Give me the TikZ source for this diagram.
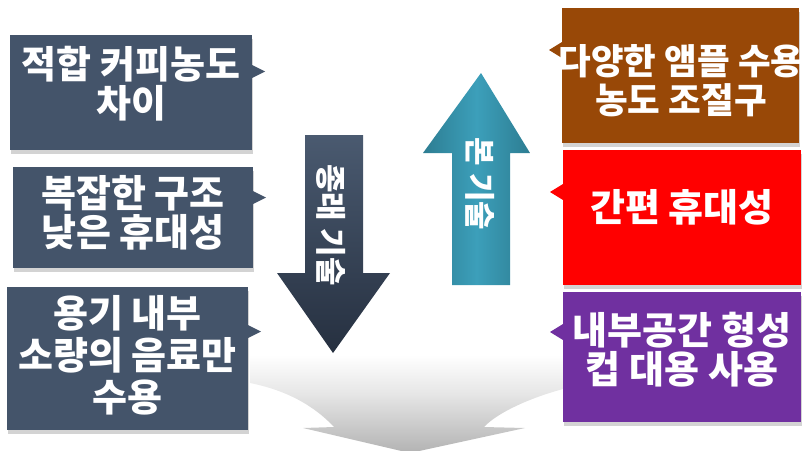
\documentclass[tikz,border=0pt]{standalone}
\usepackage{fontspec}
\setmainfont{Noto Sans CJK KR}
\usetikzlibrary{shadows}
\definecolor{slate}{HTML}{44546A}
\definecolor{brownbox}{HTML}{984807}
\definecolor{redbox}{HTML}{FF0000}
\definecolor{purplebox}{HTML}{7030A0}
\definecolor{navytop}{HTML}{4A5A70}
\definecolor{navybot}{HTML}{263040}
\definecolor{tealmid}{HTML}{3C9FBA}
\definecolor{tealedge}{HTML}{2D7D92}
\pgfdeclareverticalshading{fadegray}{100bp}{color(0bp)=(black!30); color(25bp)=(black!30); color(55bp)=(black!10); color(75bp)=(white); color(100bp)=(white)}
\tikzset{
  box/.style={draw=none, minimum width=#1, inner sep=0pt, outer sep=0pt,
    drop shadow={shadow xshift=1pt, shadow yshift=-4pt, opacity=0.35}},
  boxtext/.style={text=white, font=\bfseries\fontsize{38}{39}\selectfont, align=center, inner sep=0pt},
  arrowtext/.style={text=white, font=\bfseries\fontsize{31}{32}\selectfont, rotate=-90, inner sep=0pt},
  tri/.style={draw=none}
}
\begin{document}
\begin{tikzpicture}[x=1pt,y=-1pt]
\useasboundingbox (0,0) rectangle (802,450);
\clip (0,0) rectangle (802,450);
% bottom big arrow
\shade[shading=fadegray]
  (250,355) -- (250,383) .. controls (295,392) and (320,412) .. (334,427)
  -- (303,428) -- (410,453) -- (525,428) -- (484,427)
  .. controls (500,410) and (545,390) .. (600,381) -- (600,355) -- cycle;
% left boxes
\node[box, fill=slate, minimum width=242pt, minimum height=115pt] (L1) at (131,92.5) {};
\node[box, fill=slate, minimum width=240pt, minimum height=101pt] (L2) at (133,217.5) {};
\node[box, fill=slate, minimum width=241pt, minimum height=143pt] (L3) at (127.5,358.5) {};
\fill[slate] (L1.east |- 0,65) -- (265,71.5) -- (L1.east |- 0,78) -- cycle;
\fill[slate] (L2.east |- 0,191) -- (266,197.5) -- (L2.east |- 0,204) -- cycle;
\fill[slate] (L3.east |- 0,325) -- (261,331.5) -- (L3.east |- 0,338) -- cycle;
\node[boxtext] (T1) at (131,84) {적합 커피농도\\차이};
\node[boxtext] (T2) at (133,212.5) {복잡한 구조\\낮은 휴대성};
\node[boxtext, font=\bfseries\fontsize{38}{42}\selectfont] (T3) at (127.5,355) {용기 내부\\소량의 음료만\\수용};
% down arrow
\shade[top color=navytop, bottom color=navybot]
  (305,135) -- (363,135) -- (363,273) -- (390,273) -- (333,353) -- (277,273) -- (305,273) -- cycle;
\node[arrowtext] (DA) at (331,225) {종래 기술};
% up arrow
\shade[left color=tealedge, right color=tealedge, middle color=tealmid]
  (452,285) -- (452,153) -- (423,153) -- (481,73) -- (530,153) -- (510,153) -- (510,285) -- cycle;
\node[arrowtext] (UA) at (480,184) {본 기술};
% right boxes
\node[box, fill=brownbox, minimum width=237pt, minimum height=135pt] (R1) at (680.5,75.5) {};
\node[box, fill=redbox, minimum width=238pt, minimum height=135pt] (R2) at (682,217.5) {};
\node[box, fill=purplebox, minimum width=238pt, minimum height=130pt] (R3) at (682,357) {};
\fill[brownbox] (R1.west |- 0,42) -- (549,50) -- (R1.west |- 0,58) -- cycle;
\fill[redbox] (R2.west |- 0,184) -- (550,192) -- (R2.west |- 0,200) -- cycle;
\fill[purplebox] (R3.west |- 0,324) -- (550,332) -- (R3.west |- 0,340) -- cycle;
\node[boxtext, font=\bfseries\fontsize{35.5}{39}\selectfont] (S1) at (681,81) {다양한 앰플 수용\\농도 조절구};
\node[boxtext] (S2) at (682,207) {간편 휴대성};
\node[boxtext] (S3) at (682,350) {내부공간 형성\\컵 대용 사용};
\end{tikzpicture}
\end{document}
